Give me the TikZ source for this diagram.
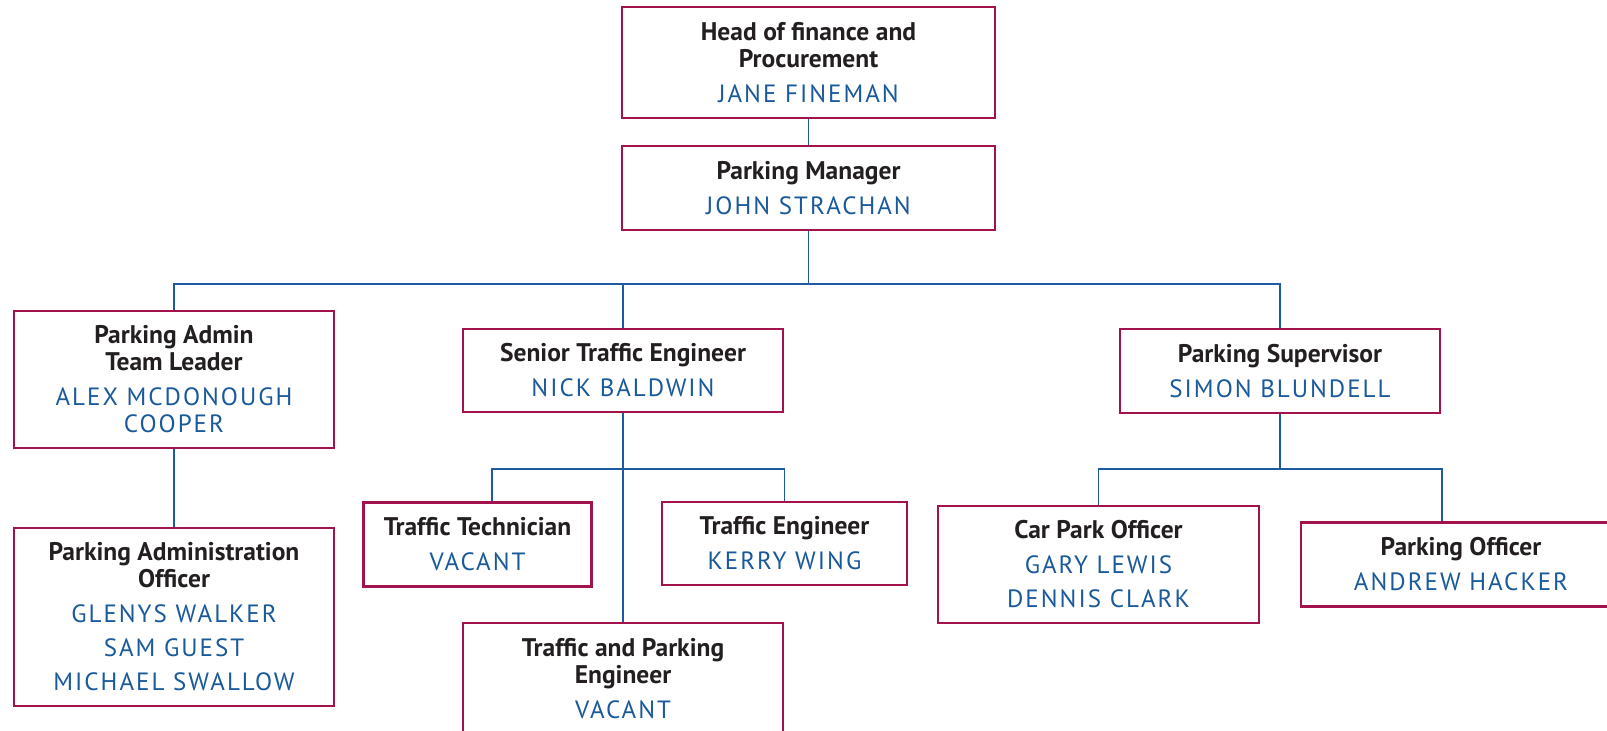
\documentclass[tikz,border=0pt]{standalone}
\usepackage{fontspec}
\setmainfont{PT Sans}
\definecolor{boxred}{RGB}{163,18,76}
\definecolor{lineblue}{RGB}{30,90,160}
\definecolor{nameblue}{RGB}{26,90,155}
\definecolor{titleblack}{RGB}{35,31,32}
\newcommand{\ttl}[1]{\textbf{\color{titleblack}#1}}
\newcommand{\nm}[1]{{\color{nameblue}\fontsize{25}{27}\selectfont\addfontfeature{LetterSpace=8}#1}}
\begin{document}
\begin{tikzpicture}[x=1pt,y=-1pt,
	role/.style={draw=boxred,line width=2.6pt,fill=white,inner sep=0pt,align=center,font=\fontsize{25.5}{27}\selectfont},
	link/.style={draw=lineblue,line width=1.8pt}]
	\useasboundingbox (0,0) rectangle (1607,731);
	\clip (0,0) rectangle (1607,731);
	% levels of the horizontal bars
	\coordinate (bar1) at (0,284);
	\coordinate (bar2) at (0,469);
	% boxes
	\node[role,minimum width=373pt,minimum height=111pt] (head) at (808.5,62.5) {\ttl{Head of finance and}\\\ttl{Procurement}\\[8pt]\nm{JANE FINEMAN}};
	\node[role,minimum width=373pt,minimum height=84pt] (pm) at (808.5,188) {\ttl{Parking Manager}\\[8pt]\nm{JOHN STRACHAN}};
	\node[role,minimum width=320pt,minimum height=137pt] (admtl) at (174,379.5) {\ttl{Parking Admin}\\\ttl{Team Leader}\\[8pt]\nm{ALEX MCDONOUGH}\\\nm{COOPER}};
	\node[role,minimum width=320pt,minimum height=178pt] (adm) at (174,617) {\ttl{Parking Administration}\\\ttl{Officer}\\[8pt]\nm{GLENYS WALKER}\\[7pt]\nm{SAM GUEST}\\[7pt]\nm{MICHAEL SWALLOW}};
	\node[role,minimum width=320pt,minimum height=83pt] (ste) at (623,370.5) {\ttl{Senior Traffic Engineer}\\[8pt]\nm{NICK BALDWIN}};
	\node[role,minimum width=228pt,minimum height=84pt] (tech) at (477.5,544.5) {\ttl{Traffic Technician}\\[8pt]\nm{VACANT}};
	\node[role,minimum width=245pt,minimum height=83pt] (te) at (784.5,543.5) {\ttl{Traffic Engineer}\\[8pt]\nm{KERRY WING}};
	\node[role,minimum width=320pt,minimum height=112pt] (tpe) at (623,679) {\ttl{Traffic and Parking}\\\ttl{Engineer}\\[8pt]\nm{VACANT}};
	\node[role,minimum width=320pt,minimum height=84pt] (sup) at (1280,371) {\ttl{Parking Supervisor}\\[8pt]\nm{SIMON BLUNDELL}};
	\node[role,minimum width=321pt,minimum height=117pt] (cpo) at (1098.5,564.5) {\ttl{Car Park Officer}\\[8pt]\nm{GARY LEWIS}\\[7pt]\nm{DENNIS CLARK}};
	\node[role,minimum width=320pt,minimum height=84pt] (po) at (1461,564.5) {\ttl{Parking Officer}\\[8pt]\nm{ANDREW HACKER}};
	% connectors
	\coordinate (techtop) at ([xshift=14.5pt]tech.north);
	\coordinate (potop) at ([xshift=-19pt]po.north);
	\draw[link] (head) -- (pm);
	\draw[link] (pm.south) -- (pm.south |- bar1) -| (admtl.north);
	\draw[link] (pm.south |- bar1) -| (ste.north);
	\draw[link] (pm.south |- bar1) -| (sup.north);
	\draw[link] (admtl) -- (adm);
	\draw[link] (ste.south) -- (tpe.north);
	\draw[link] (techtop) |- (ste.south |- bar2) -| (te.north);
	\draw[link] (sup.south) -- (sup.south |- bar2) -| (cpo.north);
	\draw[link] (sup.south |- bar2) -| (potop);
\end{tikzpicture}
\end{document}
